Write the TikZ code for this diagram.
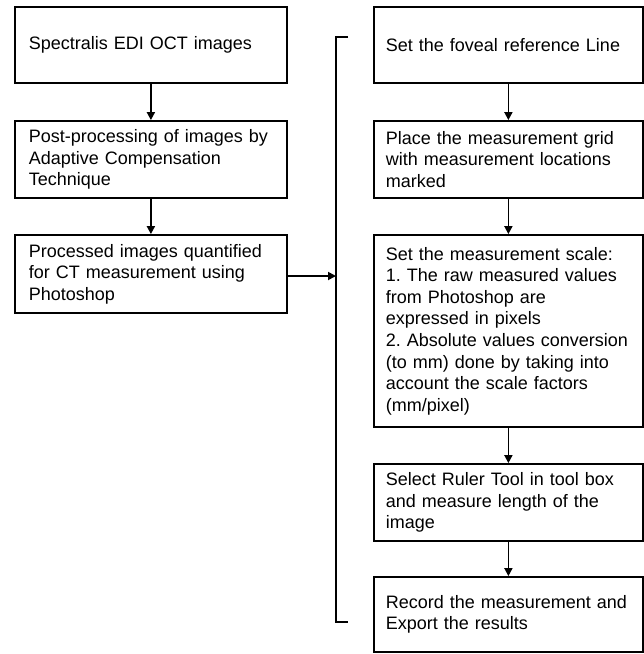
\documentclass[tikz,border=0pt]{standalone}
\usepackage{fontspec}
\setmainfont{Liberation Sans}
\usetikzlibrary{arrows.meta}
\frenchspacing
\begin{document}
\begin{tikzpicture}[x=1pt,y=-1pt,
  box/.style={draw, line width=1.8pt, rectangle, align=left, anchor=west,
    font=\fontsize{18}{21.6}\selectfont, inner sep=0pt},
  arr/.style={-{Triangle[length=8pt,width=8pt]}, line width=1.8pt}]
\useasboundingbox (0,0) rectangle (644,654);
% left column
\node[box, minimum width=272, minimum height=76, text width=244, inner xsep=14] (a1) at (14,45) {Spectralis EDI OCT images};
\node[box, minimum width=272, minimum height=77, text width=244, inner xsep=14] (a2) at (14,159.5) {Post-processing of images by\\Adaptive Compensation\\Technique};
\node[box, minimum width=272, minimum height=78, text width=244, inner xsep=14] (a3) at (14,274) {Processed images quantified\\for CT measurement using\\Photoshop};
% right column
\node[box, minimum width=269, minimum height=76, text width=245, inner xsep=12] (b1) at (373,45) {Set the foveal reference Line};
\node[box, minimum width=269, minimum height=77, text width=245, inner xsep=12] (b2) at (373,159.5) {Place the measurement grid\\with measurement locations\\marked};
\node[box, minimum width=269, minimum height=192, text width=245, inner xsep=12] (b3) at (373,331) {Set the measurement scale:\\1. The raw measured values\\from Photoshop are\\expressed in pixels\\2. Absolute values conversion\\(to mm) done by taking into\\account the scale factors\\(mm/pixel)};
\node[box, minimum width=269, minimum height=77, text width=245, inner xsep=12] (b4) at (373,502.5) {Select Ruler Tool in tool box\\and measure length of the\\image};
\node[box, minimum width=269, minimum height=75, text width=245, inner xsep=12] (b5) at (373,614.5) {Record the measurement and\\Export the results};
% bracket
\coordinate (bt) at (348,37);
\coordinate (bb) at (348,622);
\coordinate (bm) at (336,276);
\draw[line width=1.8pt] (bt) -- (336,37) -- (336,622) -- (bb);
% arrows
\draw[arr] (a1) -- (a2);
\draw[arr] (a2) -- (a3);
\draw[arr] (a3.east |- bm) -- (bm);
\draw[arr] (b1) -- (b2);
\draw[arr] (b2) -- (b3);
\draw[arr] (b3) -- (b4);
\draw[arr] (b4) -- (b5);
\end{tikzpicture}
\end{document}
